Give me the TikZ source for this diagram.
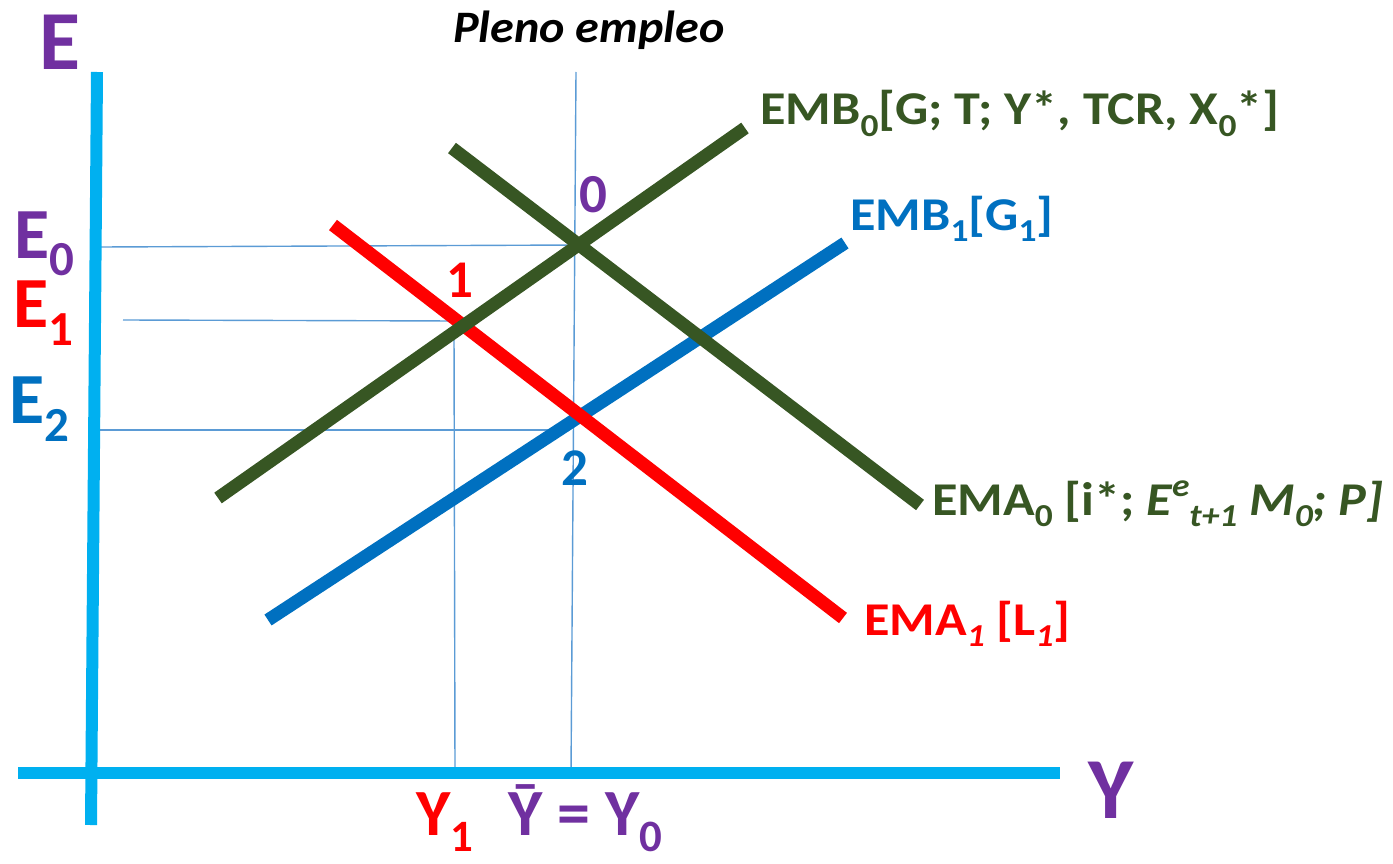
\documentclass[tikz,border=0pt]{standalone}
\usepackage{fontspec}
\setmainfont{Carlito}
\definecolor{ejeazul}{HTML}{00B0F0}
\definecolor{guia}{HTML}{5B9BD5}
\definecolor{verdeosc}{HTML}{375623}
\definecolor{azulemb}{HTML}{0070C0}
\definecolor{morado}{HTML}{7030A0}
\newcommand{\fsz}[1]{\fontsize{#1}{#1}\selectfont\bfseries}
\newcommand{\dn}[1]{\raisebox{-0.25em}{\scalebox{0.68}{#1}}}
\newcommand{\up}[1]{\raisebox{0.4em}{\scalebox{0.68}{#1}}}
\begin{document}
\begin{tikzpicture}[x=1pt, y=-1pt, lbl/.style={inner sep=0pt, anchor=base west},
    ancho/.style={lbl, xscale=1.11}, curva/.style={line width=13pt}, guialinea/.style={guia, line width=1.4pt}]
      \useasboundingbox (0,0) rectangle (1393,864);
      % Guides
      \coordinate (ytop) at (576,72);   \coordinate (ybot) at (571,773);
      \coordinate (y1top) at (454,328); \coordinate (y1bot) at (455,773);
      \coordinate (e0a) at (100,247);   \coordinate (e0b) at (578,245);
      \coordinate (e1a) at (123,320);   \coordinate (e1b) at (457,321);
      \coordinate (e2a) at (100,430);   \coordinate (e2b) at (560,430);
      \draw[guialinea] (ytop) -- (ybot);
      \draw[guialinea] (y1top) -- (y1bot);
      \draw[guialinea] (e0a) -- (e0b);
      \draw[guialinea] (e1a) -- (e1b);
      \draw[guialinea] (e2a) -- (e2b);
      % Axes
      \coordinate (ejeEtop) at (97,72); \coordinate (ejeEbot) at (91,825);
      \coordinate (ejeYl) at (18,773);  \coordinate (ejeYr) at (1060,773);
      \draw[ejeazul, line width=12pt] (ejeEtop) -- (ejeEbot);
      \draw[ejeazul, line width=12pt] (ejeYl) -- (ejeYr);
      % Curves
      \coordinate (emb0a) at (218,498); \coordinate (emb0b) at (745,128);
      \coordinate (ema0a) at (452,148); \coordinate (ema0b) at (920,505);
      \coordinate (emb1a) at (268,620); \coordinate (emb1b) at (845,243);
      \coordinate (ema1a) at (333,225); \coordinate (ema1b) at (843,618);
      \draw[curva, azulemb] (emb1a) -- (emb1b);
      \draw[curva, red] (ema1a) -- (ema1b);
      \draw[curva, verdeosc] (emb0a) -- (emb0b);
      \draw[curva, verdeosc] (ema0a) -- (ema0b);
      % Labels
      \node[lbl, morado] (labE) at (39,70) {\fsz{84}E};
      \node[lbl, morado] (labY) at (1088,818) {\fsz{87}Y};
      \node[lbl, xscale=1.07] (pleno) at (453,43) {\fsz{45}\itshape Pleno empleo};
      \node[lbl, morado] (labE0) at (14,258) {\fsz{72}E\dn{0}};
      \node[lbl, red] (labE1) at (13,327) {\fsz{72}E\dn{1}};
      \node[lbl, azulemb] (labE2) at (9,423) {\fsz{72}E\dn{2}};
      \node[lbl, red] (labY1) at (416,835) {\fsz{66}Y\dn{1}};
      \node[lbl, morado] (labY0) at (508,835) {\fsz{66}Ȳ = Y\dn{0}};
      \node[lbl, morado] (pt0) at (579,212) {\fsz{55}0};
      \node[lbl, red] (pt1) at (446,297) {\fsz{53}1};
      \node[lbl, azulemb] (pt2) at (561,485) {\fsz{53}2};
      \node[ancho, verdeosc] (labEMB0) at (760,125) {\fsz{47}EMB\dn{0}[G; T; Y*, TCR, X\dn{0}*]};
      \node[ancho, azulemb] (labEMB1) at (850,230) {\fsz{47}EMB\dn{1}[G\dn{1}]};
      \node[ancho, verdeosc] (labEMA0) at (932,515) {\fsz{47}EMA\dn{0} [i*; \itshape E\up{e}\dn{t+1} M\dn{0}; P]};
      \node[ancho, red] (labEMA1) at (864,635) {\fsz{47}EMA\dn{\itshape 1} [L\dn{\itshape 1}]};
    \end{tikzpicture}
\end{document}
